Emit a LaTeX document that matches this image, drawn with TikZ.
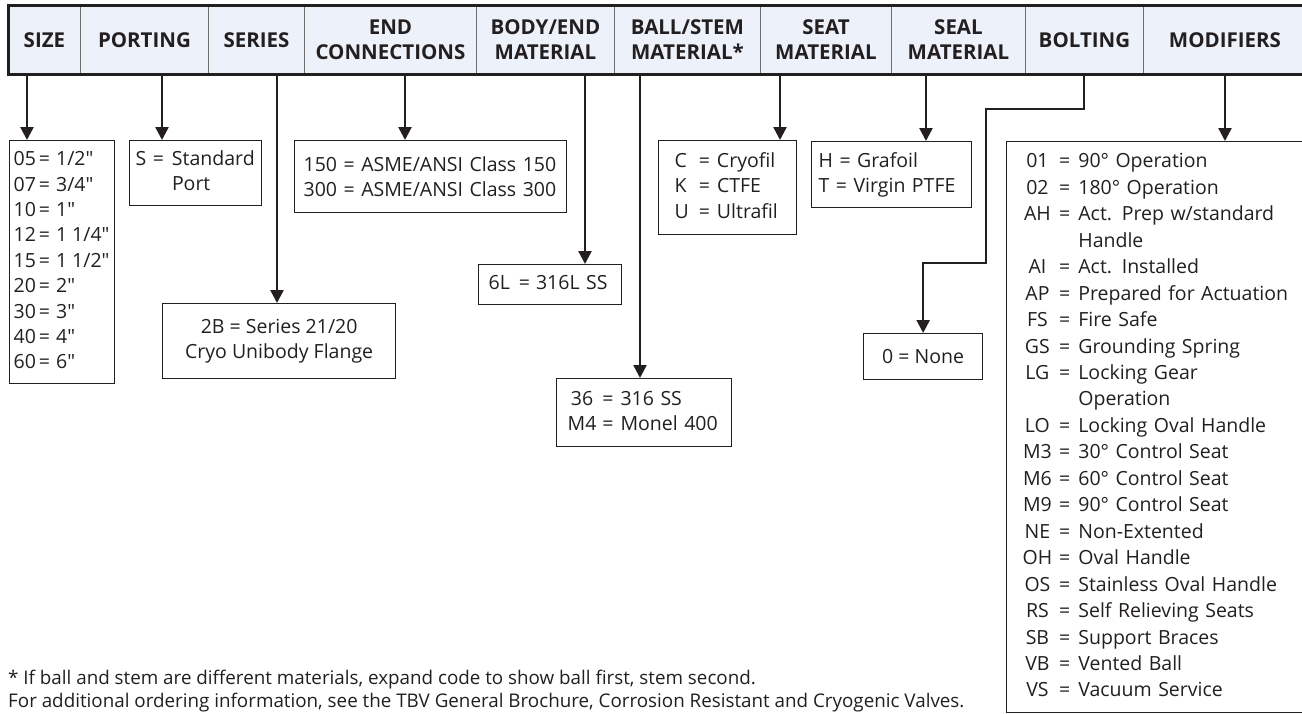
\documentclass[tikz,border=0pt]{standalone}
\usepackage{fontspec}
\setmainfont{Open Sans}
\usetikzlibrary{arrows.meta}
\definecolor{ink}{HTML}{231F20}
\definecolor{barfill}{HTML}{EDF2FA}
\definecolor{divgray}{HTML}{6E6E6E}
\newcommand{\sq}{\hspace{3pt}=\hspace{6pt}}
\begin{document}
\begin{tikzpicture}[x=1pt,y=-1pt,
  hcell/.style={draw=divgray, line width=0.9pt, fill=barfill, minimum height=69pt,
    inner sep=0pt, anchor=north west, text=ink, align=center,
    font=\fontsize{20.5}{25}\selectfont\bfseries},
  box/.style={draw=ink, line width=1.3pt, inner sep=0pt, anchor=north west, text=ink,
    font=\fontsize{19.5}{25.4}\selectfont},
  lbox/.style={box, align=left},
  arr/.style={draw=ink, line width=2.4pt, -{Triangle[width=13pt,length=13pt]}},
]
\useasboundingbox (0,0) rectangle (1302,713);
\fill[white] (0,0) rectangle (1302,713);

% header bar
\node[hcell, minimum width=72pt]  (hSize) at (8,5)   {SIZE};
\node[hcell, minimum width=128pt] (hPort) at (80,5)  {PORTING};
\node[hcell, minimum width=96pt]  (hSer)  at (208,5) {SERIES};
\node[hcell, minimum width=172pt] (hEnd)  at (304,5) {END\\CONNECTIONS};
\node[hcell, minimum width=138pt] (hBody) at (476,5) {BODY/END\\MATERIAL};
\node[hcell, minimum width=146pt] (hBall) at (614,5) {BALL/STEM\\MATERIAL*};
\node[hcell, minimum width=131pt] (hSeat) at (760,5) {SEAT\\MATERIAL};
\node[hcell, minimum width=134pt] (hSeal) at (891,5) {SEAL\\MATERIAL};
\node[hcell, minimum width=118pt] (hBolt) at (1025,5){BOLTING};
\node[hcell, minimum width=163pt] (hMod)  at (1143,5){MODIFIERS};
\draw[ink, line width=3pt] (hSize.north west) rectangle (hMod.south east);

% connector start points on the bar's lower edge
\coordinate (aSize) at (27,74);
\coordinate (aPort) at (162,74);
\coordinate (aSer)  at (277,74);
\coordinate (aEnd)  at (405,74);
\coordinate (aBody) at (585,74);
\coordinate (aBall) at (640,74);
\coordinate (aSeat) at (780,74);
\coordinate (aSeal) at (926,74);
\coordinate (aBolt) at (1084,74);
\coordinate (aMod)  at (1225,74);

% option boxes
\node[lbox, minimum width=105pt, minimum height=243pt, text width=97pt, inner xsep=4pt] (bSize) at (9,140)
  {\begin{tabular}{@{}l@{}}
   05\sq 1/2″\\07\sq 3/4″\\10\sq 1″\\12\sq 1\hspace{5pt}1/4″\\15\sq 1\hspace{5pt}1/2″\\
   20\sq 2″\\30\sq 3″\\40\sq 4″\\60\sq 6″\end{tabular}};
\node[lbox, minimum width=132pt, minimum height=65pt, text width=124pt, inner xsep=4pt] (bPort) at (129,140)
  {\hspace{2pt}\begin{tabular}{@{}l@{\hspace{8pt}}l@{}}S = & Standard\\ & Port\end{tabular}};
\node[lbox, minimum width=272pt, minimum height=72pt, text width=254pt, inner xsep=9pt] (bEnd) at (294,140)
  {150 = ASME/ANSI Class 150\\300 = ASME/ANSI Class 300};
\node[box, align=center, minimum width=233pt, minimum height=75pt] (bSer) at (162,303)
  {2B = Series 21/20\\Cryo Unibody Flange};
\node[lbox, minimum width=143pt, minimum height=40pt, text width=123pt, inner xsep=10pt] (bBody) at (478,264)
  {\begin{tabular}{@{}l@{}}6L\hspace{9pt}=\hspace{6pt}316L SS\end{tabular}};
\node[lbox, minimum width=175pt, minimum height=68pt, text width=153pt, inner xsep=11pt] (bBall) at (556,378)
  {\begin{tabular}{@{}c@{\hspace{6pt}=\hspace{7pt}}l@{}}36 & 316 SS\\M4 & Monel 400\end{tabular}};
\node[lbox, minimum width=138pt, minimum height=94pt, text width=110pt, inner xsep=14pt] (bSeat) at (658,140)
  {\hspace{2pt}\begin{tabular}{@{}l@{\hspace{10pt}=\hspace{7pt}}l@{}}C & Cryofil\\K & CTFE\\U & Ultrafil\end{tabular}};
\node[lbox, minimum width=160pt, minimum height=66pt, text width=146pt, inner xsep=7pt] (bSeal) at (811,141)
  {H = Grafoil\\T = Virgin PTFE};
\node[box, align=center, minimum width=119pt, minimum height=46pt] (bBolt) at (863,333)
  {0 = None};
\node[lbox, minimum width=304pt, minimum height=571pt, text width=272pt, inner xsep=16pt,
  font=\fontsize{19.5}{26.45}\selectfont] (bMod) at (1006,141)
  {\begin{tabular}{@{}c@{\hspace{7pt}=\hspace{8pt}}l@{}}
  01 & 90° Operation\\
  02 & 180° Operation\\
  AH & Act. Prep w/standard\\
  \multicolumn{1}{@{}c@{\hspace{7pt}\phantom{=}\hspace{8pt}}}{} & Handle\\
  AI & Act. Installed\\
  AP & Prepared for Actuation\\
  FS & Fire Safe\\
  GS & Grounding Spring\\
  LG & Locking Gear\\
  \multicolumn{1}{@{}c@{\hspace{7pt}\phantom{=}\hspace{8pt}}}{} & Operation\\
  LO & Locking Oval Handle\\
  M3 & 30° Control Seat\\
  M6 & 60° Control Seat\\
  M9 & 90° Control Seat\\
  NE & Non-Extented\\
  OH & Oval Handle\\
  OS & Stainless Oval Handle\\
  RS & Self Relieving Seats\\
  SB & Support Braces\\
  VB & Vented Ball\\
  VS & Vacuum Service
  \end{tabular}};

% connectors
\draw[arr] (aSize) -- (aSize |- bSize.north);
\draw[arr] (aPort) -- (aPort |- bPort.north);
\draw[arr] (aSer)  -- (aSer |- bSer.north);
\draw[arr] (aEnd)  -- (aEnd |- bEnd.north);
\draw[arr] (aBody) -- (aBody |- bBody.north);
\draw[arr] (aBall) -- (aBall |- bBall.north);
\draw[arr] (aSeat) -- (aSeat |- bSeat.north);
\draw[arr] (aSeal) -- (aSeal |- bSeal.north);
\draw[arr] (aMod)  -- (aMod |- bMod.north);
\draw[arr] (aBolt) |- (986,109) -- (986,263) -| (bBolt.north);

% footnote
\node[anchor=base west, align=left, text=ink, inner sep=0pt,
  font=\fontsize{18.8}{23}\selectfont] (foot) at (8,707)
  {* If ball and stem are different materials, expand code to show ball first, stem second.\\
   For additional ordering information, see the TBV General Brochure, Corrosion Resistant and Cryogenic Valves.};
\end{tikzpicture}
\end{document}
